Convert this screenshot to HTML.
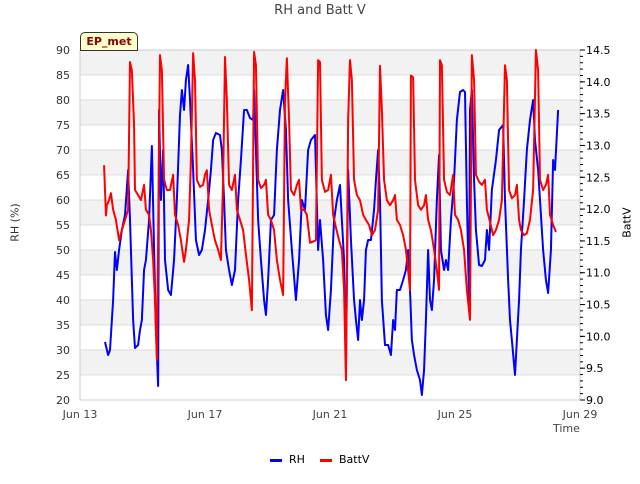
<!DOCTYPE html>
<html><head><meta charset="utf-8"><style>
body{margin:0;background:#fff;font-family:"DejaVu Sans","Liberation Sans",sans-serif;}
svg text{font-family:"DejaVu Sans","Liberation Sans",sans-serif;}
</style></head><body>
<svg id="c" width="640" height="480" xmlns="http://www.w3.org/2000/svg"></svg>
<script>
const rhTime=[0.80,0.90,0.96,1.06,1.12,1.18,1.25,1.34,1.44,1.54,1.60,1.70,1.76,1.86,1.92,1.98,2.05,2.11,2.21,2.30,2.37,2.43,2.50,2.53,2.59,2.66,2.72,2.82,2.91,3.01,3.10,3.20,3.26,3.33,3.39,3.46,3.52,3.62,3.71,3.81,3.90,4.00,4.10,4.19,4.26,4.35,4.48,4.54,4.61,4.67,4.77,4.86,4.96,5.06,5.15,5.25,5.34,5.44,5.54,5.57,5.63,5.70,5.79,5.89,5.95,6.02,6.11,6.21,6.30,6.40,6.50,6.59,6.66,6.78,6.91,7.01,7.10,7.20,7.30,7.39,7.52,7.62,7.68,7.78,7.87,7.94,8.03,8.13,8.22,8.32,8.38,8.45,8.51,8.58,8.67,8.77,8.83,8.90,8.96,9.02,9.09,9.15,9.22,9.31,9.41,9.47,9.54,9.60,9.66,9.76,9.86,9.95,10.02,10.08,10.14,10.24,10.34,10.43,10.50,10.56,10.62,10.69,10.78,10.88,10.94,11.01,11.07,11.14,11.20,11.26,11.33,11.42,11.49,11.55,11.65,11.71,11.78,11.87,11.97,12.06,12.16,12.26,12.32,12.38,12.45,12.48,12.54,12.61,12.67,12.77,12.86,12.96,13.02,13.09,13.18,13.31,13.41,13.54,13.60,13.70,13.76,13.82,13.92,13.98,14.05,14.11,14.21,14.30,14.40,14.50,14.56,14.66,14.72,14.82,14.91,14.98,15.07,15.14,15.20,15.30];
const rhValues=[31.6,29,30,40,49.6,46,50,54,57,66,56,36,30.4,31,34,36,46,48,56,70.8,50,34,22.8,78,60,70,48,42,41,48,60,77,82,78,84,87,80,66,52,49,50,54,60,66,72,73.4,73,70,60,50,46,43,46,60,68,78,78,76.4,76,82,70,56,48,40,37,44,56,57,70,78,82,74,60,50,40,48,60,58,70,72,73,50,56,48,37,34,42,56,60,63,56,48,26,66,52,40,36,32,40,36,40,50,52,52,58,64,70,60,40,31,31,29,36,34,42,42,44,46,50,42,32,29,26,24,21,26,36,50,40,38,44,60,69,50,46,48,46,56,64,76,81.6,82,81.6,60,40,78,82,64,54,47,46.8,48,54,50,62,68,74,75,60,44,36,32,25,32,40,50,60,70,76,80,72,66,60,50,44,41.4,50,68,66,78];
const bvTime=[0.77,0.83,0.86,0.93,0.99,1.06,1.15,1.25,1.34,1.44,1.54,1.60,1.66,1.73,1.76,1.86,1.95,2.05,2.11,2.21,2.27,2.34,2.40,2.46,2.56,2.62,2.69,2.78,2.88,2.98,3.04,3.14,3.23,3.33,3.39,3.49,3.55,3.62,3.68,3.74,3.84,3.94,4.00,4.06,4.13,4.22,4.32,4.42,4.51,4.58,4.64,4.70,4.77,4.86,4.96,5.02,5.12,5.22,5.31,5.41,5.50,5.57,5.63,5.70,5.79,5.89,5.95,6.02,6.11,6.21,6.30,6.40,6.50,6.56,6.62,6.69,6.75,6.85,6.94,7.01,7.07,7.17,7.26,7.36,7.46,7.55,7.62,7.68,7.74,7.84,7.94,8.03,8.10,8.19,8.29,8.38,8.45,8.51,8.58,8.64,8.70,8.77,8.86,8.96,9.06,9.15,9.25,9.34,9.44,9.54,9.60,9.66,9.73,9.82,9.92,10.02,10.08,10.14,10.24,10.34,10.43,10.50,10.56,10.59,10.66,10.72,10.82,10.91,11.01,11.07,11.14,11.23,11.33,11.42,11.49,11.52,11.58,11.65,11.74,11.84,11.94,12.00,12.10,12.19,12.29,12.38,12.48,12.54,12.61,12.67,12.77,12.86,12.96,13.02,13.12,13.22,13.31,13.41,13.50,13.60,13.66,13.73,13.82,13.92,13.98,14.05,14.11,14.21,14.30,14.40,14.50,14.59,14.66,14.72,14.82,14.91,14.98,15.04,15.14,15.23];
const bvValues=[12.69,11.90,12.06,12.14,12.25,11.99,11.83,11.51,11.67,11.83,11.99,14.31,14.18,13.32,12.30,12.22,12.14,12.38,11.99,11.91,11.67,11.20,10.57,9.63,14.42,14.18,12.46,12.30,12.30,12.54,11.91,11.75,11.51,11.17,11.36,11.83,12.77,14.45,14.03,12.46,12.35,12.38,12.54,12.61,11.99,11.75,11.51,11.36,11.20,12.46,14.39,13.71,12.38,12.30,12.54,11.99,11.83,11.67,11.28,10.89,10.41,14.47,14.26,12.46,12.33,12.38,12.46,11.91,11.83,11.67,11.20,10.89,10.65,13.71,14.37,13.40,12.30,12.22,12.38,12.46,11.99,11.99,11.91,11.47,11.49,11.51,14.34,14.31,12.46,12.27,12.30,12.54,11.91,11.71,11.51,11.36,10.73,9.31,13.40,14.34,14.03,12.46,12.22,12.14,11.91,11.83,11.75,11.59,11.67,11.99,14.25,13.56,12.46,12.14,12.06,12.14,12.22,11.83,11.75,11.59,11.36,11.04,10.73,14.10,14.07,12.46,12.06,11.99,12.06,12.22,11.83,11.67,11.36,11.04,10.73,14.34,14.26,12.46,12.27,12.22,12.54,11.91,11.83,11.67,11.36,10.73,10.26,14.42,14.03,12.54,12.43,12.38,12.46,11.99,11.80,11.59,11.67,11.83,12.14,14.26,14.03,12.30,12.17,12.22,12.38,11.83,11.67,11.59,11.62,11.83,12.30,14.50,14.18,12.46,12.30,12.38,12.54,11.91,11.75,11.64];
const leftTicks=[20,25,30,35,40,45,50,55,60,65,70,75,80,85,90];
const rightTicks=["9.0","9.5","10.0","10.5","11.0","11.5","12.0","12.5","13.0","13.5","14.0","14.5"];
const xTickDays=[0,4,8,12,16];
const xTickLabels=["Jun 13","Jun 17","Jun 21","Jun 25","Jun 29"];

const L=80,R=580,T=50,B=400;
const X=d=>L+(d/16)*(R-L);
const YL=v=>B-(v-20)/70*(B-T);
const YR=v=>B-(v-9)/5.5*(B-T);
const svg=document.getElementById('c');
const NS='http://www.w3.org/2000/svg';
function mk(tag,a,parent){const e=document.createElementNS(NS,tag);for(const k in a)e.setAttribute(k,a[k]);(parent||svg).appendChild(e);return e;}

// bands
for(let i=0;i<leftTicks.length-1;i++){
  const v=leftTicks[i];
  if(i%2===1){const r=mk('rect',{x:L,y:YL(v+5),width:R-L,height:YL(v)-YL(v+5),fill:'#f2f2f2'});
  
  }
}
leftTicks.forEach(v=>{
  const g=mk('line',{x1:L,x2:R,y1:YL(v),y2:YL(v),stroke:'#dcdcdc','stroke-width':1});
  
  
  const t=mk('text',{x:L-10,y:YL(v)+4,'text-anchor':'end','font-size':11,fill:'#333'});
  t.textContent=v;
  
  
});
mk('rect',{x:L,y:T,width:R-L,height:B-T,fill:'none',stroke:'#ccc'});
rightTicks.forEach(s=>{
  const v=parseFloat(s);
  mk('line',{x1:R,x2:R+5,y1:YR(v),y2:YR(v),stroke:'#000'});
  const t=mk('text',{x:R+6,y:YR(v)+4,'font-size':11,fill:'#000'});
  t.textContent=s;
  
  
});
for(let v=9.1;v<14.5;v+=0.1){mk('line',{x1:R,x2:R+3,y1:YR(v),y2:YR(v),stroke:'#000'});}
xTickDays.forEach((d,i)=>{
  const t=mk('text',{x:X(d),y:B+18,'text-anchor':'middle','font-size':11,fill:'#444'});
  t.textContent=xTickLabels[i];
  
  
});
function line(times,vals,Y,color,name){
  const p=mk('polyline',{points:times.map((t,i)=>X(t)+','+Y(vals[i])).join(' '),fill:'none',stroke:color,'stroke-width':2,'stroke-linejoin':'round'});
  
  
}
line(rhTime,rhValues,YL,'#0000ff','rh-line');
line(bvTime,bvValues,YR,'#ff0000','battv-line');
</script>
<div style="position:absolute;left:0;top:0;width:640px;height:480px;pointer-events:none">
<div style="position:absolute;left:0;width:640px;top:3px;text-align:center;font-size:13px;color:#444">RH and Batt V</div>
<div style="position:absolute;left:80px;top:32px;width:56px;height:17px;background:#ffffcc;border:1px solid #333;border-radius:5px 5px 0 0;font-size:11px;font-weight:bold;color:#8b0000;text-align:center;line-height:17px">EP_met</div>
<div style="position:absolute;left:-10px;top:216px;width:50px;text-align:center;transform:rotate(-90deg);font-size:11px;color:#333">RH (%)</div>
<div style="position:absolute;left:602px;top:216px;width:50px;text-align:center;transform:rotate(-90deg);font-size:11px;color:#000">BattV</div>
<div style="position:absolute;left:553px;top:422px;font-size:11px;color:#444">Time</div>
<div style="position:absolute;left:270px;top:453px;font-size:11px;color:#000"><span style="display:inline-block;width:12px;height:3px;background:#00f;vertical-align:middle;margin-right:7px"></span>RH</div>
<div style="position:absolute;left:320px;top:453px;font-size:11px;color:#000"><span style="display:inline-block;width:12px;height:3px;background:#f00;vertical-align:middle;margin-right:7px"></span>BattV</div>
</div>
</body></html>
